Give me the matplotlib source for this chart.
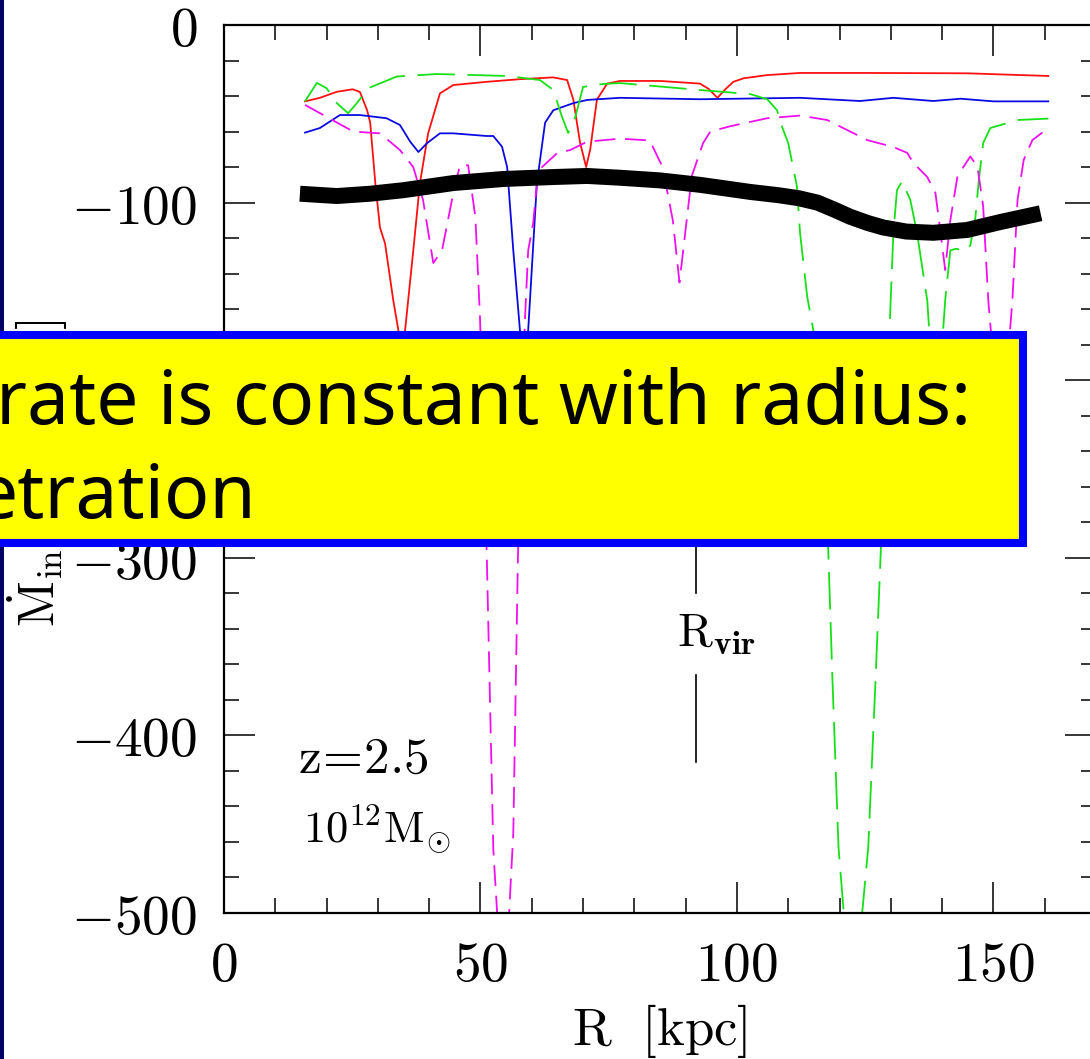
import matplotlib
matplotlib.use('Agg')
import matplotlib.pyplot as plt
from matplotlib.patches import Rectangle

plt.rcParams['mathtext.fontset'] = 'cm'
plt.rcParams['lines.scale_dashes'] = False

# data (R in kpc, Mdot_in)
red_R = [15.8, 18.7, 22.0, 25.1, 26.5, 27.9, 28.5, 29.5, 30.4, 31.4, 33.0, 34.0, 34.7, 35.3, 36.9,
         38.2, 39.8, 42.1, 44.7, 51.2, 57.7, 64.2, 66.9, 68.1, 69.4, 70.6, 71.4, 72.7, 74.7, 77.2,
         85.0, 92.8, 94.5, 96.2, 97.8, 99.3, 101.3, 105.9, 112.3, 125.4, 144.9, 160.7]
red_M = [-43, -41, -37.6, -36.2, -37.7, -48, -55, -89, -114, -123, -155, -172, -190, -172, -127,
         -89, -61, -38.5, -33.8, -32, -30.5, -29.5, -31, -42, -66, -80, -70, -42, -33, -31.5,
         -31.5, -33, -36, -41, -36, -32, -30, -28.2, -27, -27, -27.2, -28.7]

blue_R = [15.8, 18.7, 22.6, 26.5, 31.7, 34.3, 36.3, 37.9, 39.6, 42.1, 44.7, 51.2, 52.5, 54.2, 55.2,
          56.4, 57.7, 58.5, 59.3, 61.0, 62.6, 64.2, 68.1, 70.8, 77.2, 92.8, 112.3, 124.0, 130.5,
          138.3, 143.6, 150.0, 160.7]
blue_M = [-60.6, -58, -50.7, -50.7, -52.5, -56.3, -65.7, -71.5, -66.5, -61, -61, -62.5, -62.5, -68.5, -80,
          -127, -172, -190, -172, -89, -55, -48, -44, -42.2, -41, -41.8, -41, -42.8, -41,
          -42.8, -41.5, -43, -43]

green_R = [15.8, 18.1, 20.0, 22.0, 24.2, 25.9, 28.1, 33.7, 41.5, 55.2, 61.6, 64.2, 65.9, 67.1, 68.5,
           70.0, 73.9, 77.2, 92.8, 102.6, 105.9, 107.8, 108.8, 110.0, 111.7, 112.3, 113.7, 114.9,
           117.8, 118.6, 119.8, 122.5, 125.6, 127.0, 128.0, 130.0, 130.5, 131.2, 132.2, 133.8,
           135.1, 136.1, 137.1, 138.8, 140.6, 141.6, 142.6, 144.9, 145.5, 146.5, 147.1, 148.0,
           149.4, 154.7, 160.7]
green_M = [-43, -32.6, -35.6, -44, -49.7, -44, -35.6, -29, -27.6, -28.7, -31, -36.6, -51.7, -60.8, -51.7,
           -34.9, -33.2, -32.7, -36.6, -38.9, -41.8, -47.9, -57.4, -66.5, -91, -117, -153, -172,
           -295.6, -367, -463, -560, -463, -370, -299.5, -153, -117, -93, -88, -98.5,
           -117, -136, -155, -230, -155, -127, -126, -127, -124, -108, -89, -66.5,
           -58, -53.5, -52.7]

mag_R = [15.8, 20.0, 25.2, 30.4, 34.3, 36.9, 38.8, 40.8, 42.5, 44.7, 46.0, 47.6, 49.0, 49.9, 51.2,
         52.5, 54.5, 56.4, 57.3, 58.7, 59.3, 60.3, 61.0, 62.0, 65.0, 67.5, 70.8, 77.2, 83.0, 85.5,
         87.5, 88.8, 90.0, 91.2, 93.4, 94.8, 98.7, 105.9, 112.3, 117.6, 120.7, 125.4, 130.5, 133.2,
         134.4, 137.1, 138.7, 139.7, 140.6, 141.6, 143.0, 145.5, 146.9, 148.0, 149.0, 150.6,
         152.2, 153.7, 154.7, 155.9, 157.6, 160.7]
mag_M = [-45, -51.7, -60, -61, -70.4, -80, -98.5, -134, -127, -94.6, -79, -79, -108, -164, -295,
         -464, -560, -455, -299.5, -164, -127, -111, -89, -80, -72, -70.4, -65.7, -64, -65, -80,
         -110, -145, -115, -85, -66.5, -60, -57, -52.5, -51, -53.5, -58, -64.8, -68.7, -72,
         -77.7, -85.6, -94.6, -117, -138, -110, -85, -74, -80, -102, -155, -210,
         -210, -155, -98.5, -76, -64.8, -58]

mean_R = [14.8, 22.0, 28.5, 35.0, 44.7, 54.5, 64.2, 70.8, 77.2, 85.0, 92.8, 102.6, 108.0, 112.0,
          115.7, 119.0, 122.1, 125.5, 128.5, 133.0, 138.3, 144.9, 151.4, 159.2]
mean_M = [-95, -96.3, -95, -93, -89, -86.7, -85.6, -85, -86, -87.5, -90, -94, -95.8, -97.5,
          -100, -104, -108, -111.5, -114, -116.3, -117, -115.4, -110.9, -106]

rvir = 92.1
rvir_up = [-285, -320]
rvir_low = [-366, -415]

x_ticks = [0, 50, 100, 150]
y_ticks = [0, -100, -200, -300, -400, -500]

W, H = 1090, 1059
fig = plt.figure(figsize=(W / 100, H / 100), dpi=100)
fig.patch.set_facecolor('white')

ax = fig.add_axes([224 / W, (H - 913) / H, 872 / W, 888 / H])
ax.set_xlim(0, 170)
ax.set_ylim(-500, 0)

ax.plot(red_R, red_M, color='#ff1010', lw=1.3)
ax.plot(blue_R, blue_M, color='#0a0ae0', lw=1.3)
ax.plot(green_R, green_M, color='#18e018', lw=1.3, dashes=(27, 9))
ax.plot(mag_R, mag_M, color='#ee10ee', lw=1.3, dashes=(15, 7))
ax.plot(mean_R, mean_M, color='black', lw=11.5, solid_capstyle='butt', solid_joinstyle='round')

ax.plot([rvir, rvir], rvir_up, color='black', lw=1.2)
ax.plot([rvir, rvir], rvir_low, color='black', lw=1.2)
ax.text(88.3, -350, r'$\mathrm{R}_{\mathbf{vir}}$', fontsize=34, va='baseline', ha='left')
ax.text(14.4, -421, r'$\mathrm{z}\!=\!2.5$', fontsize=37, va='baseline', ha='left')
ax.text(15.4, -461, r'$10^{12}\mathrm{M}_{\odot}$', fontsize=32, va='baseline', ha='left')

ax.set_xticks(x_ticks)
ax.set_xticklabels([r'$%d$' % v for v in x_ticks])
ax.set_yticks(y_ticks)
ax.set_yticklabels([r'$%d$' % v for v in y_ticks])
ax.set_xticks(range(0, 171, 10), minor=True)
ax.set_yticks(range(-500, 1, 20), minor=True)
ax.tick_params(which='both', direction='in', top=True, right=True, width=1.1, labelsize=40)
ax.tick_params(which='major', length=22, pad=19)
ax.tick_params(which='minor', length=11)
for s in ax.spines.values():
    s.set_linewidth(1.6)

ax.set_xlabel(r'$\mathrm{R\ \ [kpc]}$', fontsize=38, labelpad=6)

# y label placed by hand, its middle is hidden behind the slide box
fig.text(38 / W, (H - 627) / H,
         r'$\dot{\mathrm{M}}_{\mathrm{in}}\ \,[\mathrm{M}_{\odot}\,\mathrm{yr}^{-1}]$',
         fontsize=36, rotation=90, ha='center', va='bottom', zorder=3)

# slide decorations
fig.patches.append(Rectangle((0, 0), 3.5 / W, 1, transform=fig.transFigure,
                             facecolor='#000066', edgecolor='none', zorder=5))
fig.patches.append(Rectangle((-20 / W, (H - 543) / H), 1042.5 / W, 208 / H,
                             transform=fig.transFigure, facecolor='#ffff00',
                             edgecolor='#0000ff', lw=5.8, zorder=10))
fig.text(-4 / W, (H - 424) / H, 'rate is constant with radius:', fontsize=54,
         family='Noto Sans', va='baseline', ha='left', zorder=11)
fig.text(-24 / W, (H - 518) / H, 'etration', fontsize=54,
         family='Noto Sans', va='baseline', ha='left', zorder=11)

fig.savefig('out.png', dpi=100)
